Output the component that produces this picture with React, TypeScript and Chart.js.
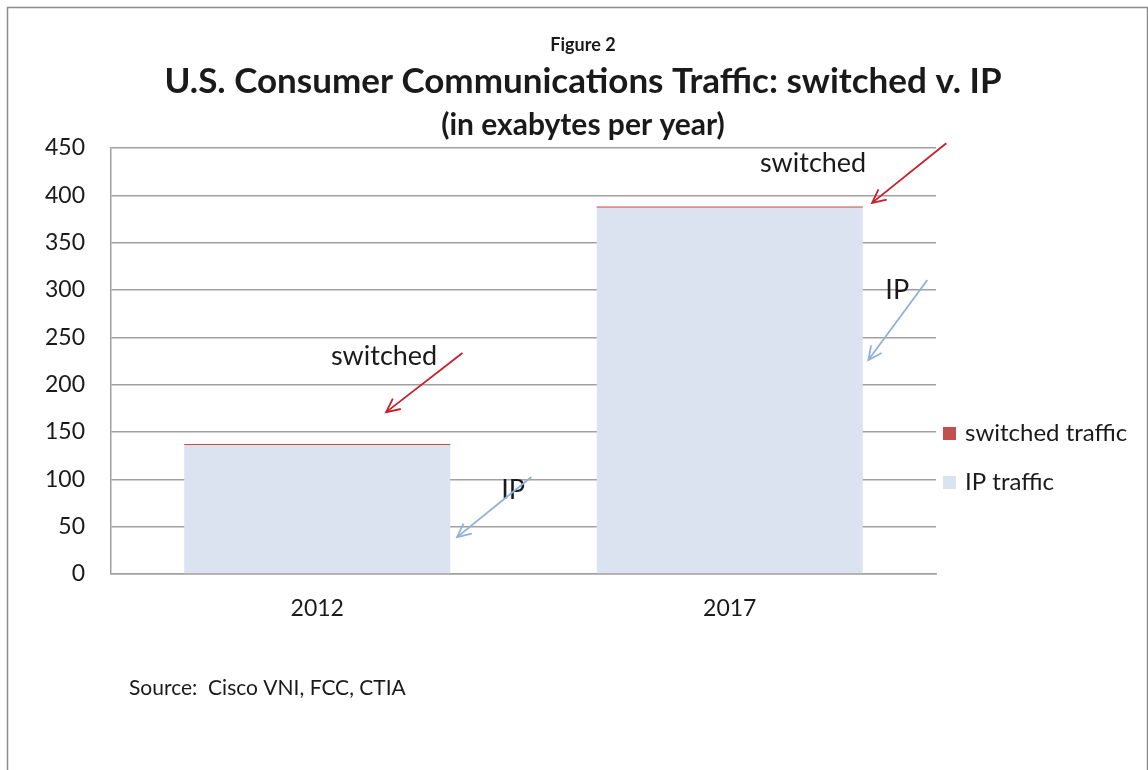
import React, { useEffect, useRef } from "react";
import { Chart, registerables } from "chart.js";

Chart.register(...registerables);

const categories = ["2012", "2017"];
const ipTraffic = [136, 387];
const switchedTraffic = [1.2, 1.2];
const yMin = 0;
const yMax = 450;
const yStep = 50;

const figureLabel = "Figure 2";
const mainTitle = "U.S. Consumer Communications Traffic: switched v. IP";
const subTitle = "(in exabytes per year)";
const sourceNote = "Source:  Cisco VNI, FCC, CTIA";

// annotations in data space (x: category index, y: value)
const annotationLabels = ["switched", "IP", "switched", "IP"];
const annotationTextX = [0.162, 0.475, 1.202, 1.406];
const annotationTextY = [230, 88.7, 434, 300];
const arrowFromX = [0.352, 0.519, 1.525, 1.479];
const arrowFromY = [233.5, 102.5, 455, 310.6];
const arrowToX = [0.167, 0.339, 1.345, 1.336];
const arrowToY = [171, 39, 392, 226];
const arrowColors = ["#c8202a", "#8fb1dc", "#c8202a", "#8fb1dc"];

const FONT = "Lato, 'Open Sans', sans-serif";

const decorPlugin = {
  id: "decor",
  beforeDraw(chart: any) {
    const ctx = chart.ctx;
    ctx.save();
    ctx.fillStyle = "#ffffff";
    ctx.fillRect(0, 0, chart.width, chart.height);
    ctx.strokeStyle = "#8c8c8c";
    ctx.lineWidth = 1.5;
    ctx.strokeRect(7.5, 7.5, chart.width - 8, chart.height + 40);
    ctx.restore();
  },
  afterDraw(chart: any) {
    const ctx = chart.ctx;
    const xs = chart.scales.x;
    const ys = chart.scales.y;
    const area = chart.chartArea;
    ctx.save();
    // titles
    const cx = 583;
    ctx.fillStyle = "#1a1a1a";
    ctx.textAlign = "center";
    ctx.textBaseline = "middle";
    ctx.font = `bold 18px ${FONT}`;
    ctx.fillText(figureLabel, cx, 45);
    ctx.font = `bold 35px ${FONT}`;
    ctx.fillText(mainTitle, cx, 82);
    ctx.font = `bold 30px ${FONT}`;
    ctx.fillText(subTitle, cx, 125);

    // source
    ctx.textAlign = "left";
    ctx.font = `21px ${FONT}`;
    ctx.fillText(sourceNote, 129, 688);

    // legend (reverse order)
    const ds = chart.data.datasets;
    ctx.font = `24px ${FONT}`;
    const lx = area.right + 7;
    for (let k = 0; k < ds.length; k++) {
      const d = ds[ds.length - 1 - k];
      const ly = 433 + k * 49;
      ctx.fillStyle = d.backgroundColor;
      ctx.fillRect(lx, ly - 6, 13, 13);
      ctx.fillStyle = "#1a1a1a";
      ctx.textAlign = "left";
      ctx.fillText(d.label, lx + 22, ly);
    }

    // annotations
    for (let i = 0; i < annotationLabels.length; i++) {
      const tx = xs.getPixelForValue(annotationTextX[i]);
      const ty = ys.getPixelForValue(annotationTextY[i]);
      const fx = xs.getPixelForValue(arrowFromX[i]);
      const fy = ys.getPixelForValue(arrowFromY[i]);
      const ex = xs.getPixelForValue(arrowToX[i]);
      const ey = ys.getPixelForValue(arrowToY[i]);
      ctx.fillStyle = "#1a1a1a";
      ctx.textAlign = "center";
      ctx.font = `27px ${FONT}`;
      ctx.fillText(annotationLabels[i], tx, ty);
      ctx.strokeStyle = arrowColors[i];
      ctx.lineWidth = 1.8;
      ctx.beginPath();
      ctx.moveTo(fx, fy);
      ctx.lineTo(ex, ey);
      ctx.stroke();
      const ang = Math.atan2(fy - ey, fx - ex);
      const len = 15;
      const spread = 0.45;
      ctx.beginPath();
      ctx.moveTo(ex + len * Math.cos(ang + spread), ey + len * Math.sin(ang + spread));
      ctx.lineTo(ex, ey);
      ctx.lineTo(ex + len * Math.cos(ang - spread), ey + len * Math.sin(ang - spread));
      ctx.stroke();
    }
    ctx.restore();
  },
};

export default function App() {
  const ref = useRef<HTMLCanvasElement>(null);
  useEffect(() => {
    if (!ref.current) return;
    const chart = new Chart(ref.current, {
      type: "bar",
      data: {
        labels: categories,
        datasets: [
          {
            label: "IP traffic",
            data: ipTraffic,
            backgroundColor: "#dce3f0",
            borderWidth: 0,
            barPercentage: 0.645,
            categoryPercentage: 1,
          },
          {
            label: "switched traffic",
            data: switchedTraffic,
            backgroundColor: "#c0504d",
            borderWidth: 0,
            barPercentage: 0.645,
            categoryPercentage: 1,
          },
        ],
      },
      options: {
        animation: false,
        responsive: false,
        maintainAspectRatio: false,
        layout: { padding: { left: 0, top: 148, right: 212, bottom: 0 } },
        plugins: {
          legend: { display: false },
          title: { display: false },
          tooltip: { enabled: false },
        },
        scales: {
          x: {
            stacked: true,
            grid: { display: false, drawTicks: false },
            border: { display: true, color: "#a0a0a0", width: 1.5 },
            ticks: { color: "#1a1a1a", font: { family: FONT, size: 23 }, padding: 21 },
            afterFit(axis: any) {
              axis.height = 196;
            },
          },
          y: {
            stacked: true,
            min: yMin,
            max: yMax,
            ticks: { stepSize: yStep, color: "#1a1a1a", font: { family: FONT, size: 23 }, padding: 26 },
            grid: { color: "#a0a0a0", lineWidth: 1.5, drawTicks: false },
            border: { display: true, color: "#a0a0a0", width: 1.5 },
            afterFit(axis: any) {
              axis.width = 111;
            },
          },
        },
      },
      plugins: [decorPlugin],
    });
    return () => chart.destroy();
  }, []);
  return (
    <div style={{ position: "absolute", left: 0, top: 0, width: 1148, height: 770 }}>
      <canvas ref={ref} width={1148} height={770} style={{ width: 1148, height: 770, display: "block" }} />
    </div>
  );
}
